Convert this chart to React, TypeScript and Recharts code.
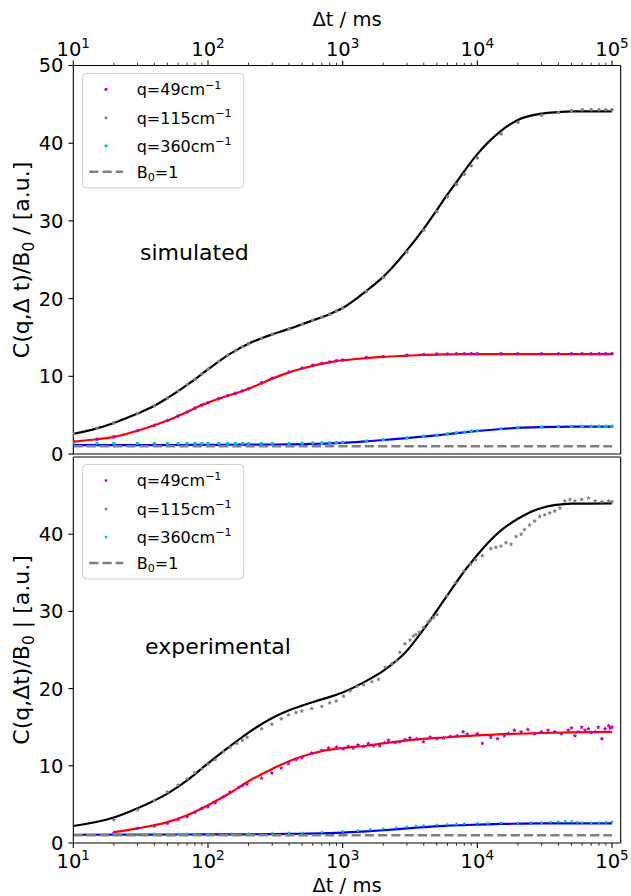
import { ComposedChart, Line, Scatter, XAxis, YAxis } from 'recharts';

const FONT = '"DejaVu Sans", Verdana, sans-serif';

// shared log x axis
const X_DOMAIN: [number, number] = [10, 116000];
const X_TICKS = [
  10, 20, 30, 40, 50, 60, 70, 80, 90,
  100, 200, 300, 400, 500, 600, 700, 800, 900,
  1000, 2000, 3000, 4000, 5000, 6000, 7000, 8000, 9000,
  10000, 20000, 30000, 40000, 50000, 60000, 70000, 80000, 90000,
  100000,
];
const Y_TICKS_SIM = [0, 10, 20, 30, 40, 50];
const Y_TICKS_EXP = [0, 10, 20, 30, 40];
const Q_VALUES = [49, 115, 360];

const B0_T = [10, 100000];
const B0_V = [1, 1];

// simulated panel
const SIM_T = [10, 15, 20, 30, 40, 50, 60, 70, 80, 90, 100, 120, 140, 160, 180, 200, 250, 300, 400, 500, 600, 700, 800, 900, 1000, 1500, 2000, 3000, 4000, 5000, 6000, 7000, 8000, 9000, 10000, 15000, 20000, 30000, 40000, 50000, 60000, 70000, 80000, 90000, 100000];
const SIM_Q49 = [1.6, 1.9, 2.2, 3.0, 3.7, 4.3, 4.9, 5.4, 5.9, 6.3, 6.6, 7.1, 7.5, 7.8, 8.1, 8.4, 9.15, 9.75, 10.55, 11.05, 11.4, 11.65, 11.85, 12.0, 12.1, 12.4, 12.55, 12.7, 12.8, 12.85, 12.87, 12.9, 12.9, 12.9, 12.9, 12.9, 12.9, 12.9, 12.9, 12.9, 12.9, 12.9, 12.9, 12.9, 12.9];
const SIM_Q115 = [2.6, 3.3, 4.0, 5.2, 6.2, 7.2, 8.1, 8.9, 9.6, 10.3, 10.9, 11.9, 12.7, 13.3, 13.8, 14.2, 14.9, 15.4, 16.1, 16.7, 17.2, 17.6, 18.0, 18.4, 18.8, 20.9, 22.7, 26.0, 28.8, 31.2, 33.1, 34.7, 36.0, 37.1, 38.1, 41.2, 42.7, 43.6, 43.95, 44.2, 44.3, 44.3, 44.3, 44.3, 44.3];
const SIM_Q360 = [1.35, 1.35, 1.35, 1.35, 1.35, 1.35, 1.35, 1.35, 1.35, 1.35, 1.35, 1.35, 1.35, 1.35, 1.35, 1.35, 1.35, 1.35, 1.36, 1.38, 1.4, 1.42, 1.45, 1.48, 1.52, 1.68, 1.85, 2.1, 2.3, 2.45, 2.6, 2.72, 2.83, 2.92, 3.0, 3.25, 3.38, 3.48, 3.52, 3.54, 3.55, 3.55, 3.55, 3.55, 3.55];
const SIM_FIT_Q49 = [1.6, 1.9, 2.2, 3.0, 3.7, 4.3, 4.9, 5.4, 5.9, 6.3, 6.6, 7.1, 7.5, 7.8, 8.1, 8.4, 9.1, 9.7, 10.5, 11.0, 11.35, 11.6, 11.8, 11.95, 12.05, 12.35, 12.5, 12.65, 12.75, 12.8, 12.82, 12.84, 12.85, 12.85, 12.85, 12.85, 12.85, 12.85, 12.85, 12.85, 12.85, 12.85, 12.85, 12.85, 12.85];
const SIM_FIT_Q115 = [2.6, 3.3, 4.0, 5.2, 6.2, 7.2, 8.1, 8.9, 9.6, 10.3, 10.9, 11.9, 12.7, 13.3, 13.8, 14.2, 14.9, 15.4, 16.1, 16.7, 17.2, 17.6, 18.0, 18.4, 18.8, 21.0, 22.8, 26.2, 29.0, 31.4, 33.4, 35.0, 36.4, 37.6, 38.6, 41.6, 43.0, 43.8, 44.0, 44.1, 44.1, 44.1, 44.1, 44.1, 44.1];
const SIM_FIT_Q360 = [1.15, 1.15, 1.15, 1.15, 1.15, 1.15, 1.16, 1.16, 1.17, 1.17, 1.18, 1.18, 1.19, 1.19, 1.2, 1.2, 1.21, 1.22, 1.24, 1.27, 1.3, 1.33, 1.36, 1.4, 1.44, 1.62, 1.8, 2.05, 2.25, 2.4, 2.55, 2.68, 2.79, 2.88, 2.96, 3.22, 3.36, 3.46, 3.5, 3.52, 3.53, 3.53, 3.53, 3.53, 3.53];

// experimental panel: [t, value]
const EXP_Q49: [number, number][] = [
  [20, 1.33], [30, 1.9], [40, 2.2], [50, 2.54], [60, 3.05], [70, 3.4], [80, 3.96], [90, 4.47], [100, 4.7], [113, 5.2],
  [130, 5.97], [146, 6.6], [169, 7.2], [180, 7.4], [195, 7.6], [250, 8.4], [298, 9.07], [350, 9.7], [396, 10.3], [450, 10.8],
  [498, 11.05], [590, 11.65], [700, 12.0], [786, 12.3], [900, 12.4], [1014, 12.2], [1100, 12.5], [1202, 12.3], [1300, 12.7], [1427, 12.5],
  [1550, 12.9], [1695, 12.6], [1884, 12.6], [2050, 13.0], [2190, 13.3], [2448, 13.0], [2661, 13.1], [2900, 13.4], [3162, 13.6], [3548, 13.5],
  [3981, 13.1], [4467, 13.7], [5012, 13.5], [5600, 13.6], [6300, 13.8], [7080, 13.9], [7850, 14.4], [8414, 14.1], [10000, 14.15], [10900, 12.9],
  [12590, 13.7], [14130, 13.5], [15850, 13.9], [17000, 14.2], [18840, 14.6], [21130, 14.4], [23710, 14.7], [26600, 14.15], [29850, 14.4], [33500, 14.6],
  [37580, 14.4], [42170, 14.15], [47320, 14.6], [50000, 14.9], [53090, 13.9], [56000, 14.4], [59570, 15.0], [63000, 14.6], [66830, 14.8], [70000, 14.3],
  [74990, 14.4], [79000, 15.0], [84140, 13.5], [88900, 14.8], [94400, 15.2], [97000, 14.9], [100000, 15.0],
];
const EXP_Q115: [number, number][] = [
  [20, 3.0], [30, 4.3], [40, 5.5], [50, 6.6], [60, 7.5], [70, 8.3], [80, 9.1], [90, 9.6], [100, 10.2], [113, 10.8],
  [130, 11.8], [146, 12.4], [164, 12.9], [180, 13.3], [195, 13.7], [250, 14.8], [298, 15.4], [350, 16.1], [396, 16.6], [450, 16.9],
  [498, 17.1], [590, 17.4], [700, 17.7], [800, 18.15], [895, 18.4], [1014, 19.0], [1137, 19.7], [1274, 20.3], [1427, 20.5], [1647, 20.9],
  [1845, 21.2], [2067, 22.75], [2316, 23.2], [2523, 23.6], [2661, 24.7], [2900, 25.8], [3162, 26.3], [3350, 26.8], [3500, 27.0], [3700, 27.3],
  [3981, 27.9], [4300, 28.6], [4500, 28.9], [4732, 29.2], [5012, 29.6], [5957, 32.0], [6879, 33.7], [7943, 35.2], [8900, 36.1], [9716, 36.7],
  [10900, 37.2], [12590, 38.15], [13720, 38.3], [14960, 38.45], [16320, 38.9], [17780, 38.7], [19390, 39.7], [21130, 40.0], [22390, 40.6], [24410, 41.2],
  [26600, 41.7], [29000, 42.3], [31620, 42.5], [34470, 42.75], [37580, 43.0], [40980, 43.4], [44670, 44.3], [48700, 44.5], [53090, 44.3], [59570, 44.5],
  [66830, 44.7], [74990, 44.3], [84140, 44.2], [94400, 44.3], [100000, 44.2],
];
const EXP_Q360: [number, number][] = [
  [20, 1.15], [30, 1.1], [40, 1.15], [50, 1.1], [60, 1.15], [70, 1.2], [80, 1.1], [100, 1.15], [150, 1.2], [200, 1.2],
  [300, 1.25], [400, 1.3], [500, 1.3], [700, 1.4], [1000, 1.5], [1300, 1.6], [1600, 1.75], [2000, 1.85], [2500, 2.0], [3000, 2.1],
  [3500, 2.2], [4000, 2.25], [5000, 2.35], [6000, 2.4], [7000, 2.45], [8000, 2.5], [10000, 2.55], [12000, 2.55], [15000, 2.6], [20000, 2.6],
  [25000, 2.65], [30000, 2.65], [35000, 2.7], [40000, 2.75], [45000, 2.8], [50000, 2.8], [55000, 2.7], [60000, 2.65], [70000, 2.6], [80000, 2.65],
  [90000, 2.7], [100000, 2.75],
];
const EXP_FIT_T = [10, 20, 30, 50, 70, 100, 150, 200, 300, 400, 500, 700, 1000, 1500, 2000, 3000, 4000, 6000, 8000, 10000, 12000, 15000, 20000, 30000, 50000, 100000];
const EXP_FIT_Q49 = [null, 1.4, 1.9, 2.7, 3.6, 4.9, 6.6, 8.0, 9.6, 10.6, 11.2, 11.9, 12.3, 12.6, 12.9, 13.3, 13.5, 13.7, 13.85, 13.95, 14.0, 14.1, 14.15, 14.25, 14.33, 14.4];
const EXP_FIT_Q115 = [2.2, 3.3, 4.5, 6.4, 8.1, 10.3, 12.7, 14.3, 16.2, 17.2, 17.8, 18.6, 19.5, 21.0, 22.3, 24.9, 27.7, 32.1, 35.2, 37.3, 38.9, 40.5, 42.0, 43.4, 43.95, 44.0];
const EXP_FIT_Q360 = [1.07, 1.08, 1.09, 1.1, 1.1, 1.11, 1.12, 1.13, 1.15, 1.17, 1.2, 1.25, 1.35, 1.5, 1.65, 1.9, 2.05, 2.24, 2.32, 2.38, 2.42, 2.47, 2.5, 2.53, 2.55, 2.55];

const C = { mag: '#bf00bf', gray: '#808080', cyan: '#00bfbf', red: '#ff0000', blue: '#0000ff', black: '#000000' };

const TICK_FS = 19.5;
const LABEL_FS = 19.5;

const zip = (ts: number[], vs: (number | null)[]) => ts.map((t, i) => ({ t, v: vs[i] }));
const pairs = (arr: [number, number][]) => arr.map(([t, v]) => ({ t, v }));

function starPoints(cx: number, cy: number, r: number) {
  const pts: string[] = [];
  for (let i = 0; i < 10; i++) {
    const a = -Math.PI / 2 + (i * Math.PI) / 5;
    const rr = i % 2 === 0 ? r : r * 0.5;
    pts.push(`${cx + rr * Math.cos(a)},${cy + rr * Math.sin(a)}`);
  }
  return pts.join(' ');
}

const dotShape = (color: string, r: number) => (p: any) => <circle cx={p.cx} cy={p.cy} r={r} fill={color} />;
const starShape = (color: string, r: number) => (p: any) => <polygon points={starPoints(p.cx, p.cy, r)} fill={color} />;

function LogTick(props: any) {
  const { x, y, payload, side } = props;
  const e = Math.log10(payload.value);
  const major = Math.abs(e - Math.round(e)) < 1e-9;
  const d = side === 'top' ? -1 : 1;
  return (
    <g>
      <line x1={x} x2={x} y1={y} y2={y + d * (major ? 4.9 : 2.8)} stroke="#000" strokeWidth={major ? 1.1 : 0.8} />
      {major && (
        <text x={x} y={side === 'top' ? y - 10 : y + 24.5} textAnchor="middle" fontSize={TICK_FS} fontFamily={FONT} fill="#000">
          10<tspan dy={-8} fontSize={TICK_FS * 0.7}>{Math.round(e)}</tspan>
        </text>
      )}
    </g>
  );
}

const AXIS = { stroke: '#000', strokeWidth: 1.1 };
const YTICK = { fontSize: TICK_FS, fill: '#000', fontFamily: FONT };

function LegendBox({ x, y, star }: { x: number; y: number; star: boolean }) {
  const rows = [16, 44.5, 72.5, 98.5];
  const colors = [C.mag, C.gray, C.cyan];
  const mx = x + 23.3;
  return (
    <g fontFamily={FONT} fill="#000">
      <rect x={x} y={y} width={161} height={114.5} rx={4} fill="#fff" fillOpacity={0.8} stroke="#cccccc" strokeWidth={1} />
      {Q_VALUES.map((q, i) => (
        <g key={q}>
          {star ? (
            <polygon points={starPoints(mx, y + rows[i], 2.1)} fill={colors[i]} />
          ) : (
            <circle cx={mx} cy={y + rows[i]} r={1.6} fill={colors[i]} />
          )}
          <text x={x + 54} y={y + rows[i] + 5.8} fontSize={16}>
            {`q=${q}cm`}
            <tspan dy={-6.5} fontSize={11.2}>−1</tspan>
          </text>
        </g>
      ))}
      <line x1={x + 6.5} x2={x + 40.5} y1={y + rows[3]} y2={y + rows[3]} stroke={C.gray} strokeWidth={2.5} strokeDasharray="9.25 4" />
      <text x={x + 54} y={y + rows[3] + 5.8} fontSize={16}>
        B<tspan dy={3.5} fontSize={11.2}>0</tspan>
        <tspan dy={-3.5}>=1</tspan>
      </text>
    </g>
  );
}

function Axes({ side, yTicks, h }: { side: 'top' | 'bottom'; yTicks: number[]; h: number }) {
  return [
    <XAxis key="x" xAxisId="x" dataKey="t" type="number" scale="log" domain={X_DOMAIN} allowDataOverflow orientation={side} height={h}
      ticks={X_TICKS} interval={0} tickSize={0} tickMargin={0} tickLine={false} axisLine={AXIS} tick={<LogTick side={side} />} />,
    <XAxis key="xe" xAxisId="edge" type="number" scale="log" domain={X_DOMAIN} allowDataOverflow orientation={side === 'top' ? 'bottom' : 'top'}
      height={1} tick={false} tickLine={false} axisLine={AXIS} />,
    <YAxis key="y" yAxisId="y" dataKey="v" type="number" domain={[0, 50]} allowDataOverflow ticks={yTicks} interval={0} width={73.3}
      tickSize={4.9} tickMargin={4.9} tick={YTICK} tickLine={AXIS} axisLine={AXIS} />,
    <YAxis key="ye" yAxisId="edge" orientation="right" type="number" domain={[0, 50]} width={10.3} tick={false} tickLine={false} axisLine={AXIS} />,
  ];
}

export default function App() {
  const ids = { xAxisId: 'x', yAxisId: 'y', isAnimationActive: false };
  return (
    <div style={{ position: 'absolute', left: 0, top: 0, width: 631, height: 896, background: '#fff', fontFamily: FONT }}>
      <div style={{ position: 'absolute', left: 0, top: 0 }}>
        <ComposedChart width={631} height={471} margin={{ top: 0, right: 0, bottom: 16, left: 0 }}>
          {Axes({ side: 'top', yTicks: Y_TICKS_SIM, h: 65.5 })}
          <Scatter {...ids} data={zip(SIM_T, SIM_Q49)} shape={dotShape(C.mag, 1.8)} />
          <Scatter {...ids} data={zip(SIM_T, SIM_Q115)} shape={dotShape(C.gray, 1.8)} />
          <Scatter {...ids} data={zip(SIM_T, SIM_Q360)} shape={dotShape(C.cyan, 1.8)} />
          <Line {...ids} data={zip(SIM_T, SIM_FIT_Q115)} dataKey="v" type="monotone" stroke={C.black} strokeWidth={2.2} dot={false} />
          <Line {...ids} data={zip(SIM_T, SIM_FIT_Q49)} dataKey="v" type="monotone" stroke={C.red} strokeWidth={2.2} dot={false} />
          <Line {...ids} data={zip(SIM_T, SIM_FIT_Q360)} dataKey="v" type="monotone" stroke={C.blue} strokeWidth={2.2} dot={false} />
          <Line {...ids} data={zip(B0_T, B0_V)} dataKey="v" type="linear" stroke={C.gray} strokeWidth={2.5} strokeDasharray="9.25 4" dot={false} />
        </ComposedChart>
      </div>
      <div style={{ position: 'absolute', left: 0, top: 456 }}>
        <ComposedChart width={631} height={440} margin={{ top: 0, right: 0, bottom: 0, left: 0 }}>
          {Axes({ side: 'bottom', yTicks: Y_TICKS_EXP, h: 53 })}
          <Scatter {...ids} data={pairs(EXP_Q49)} shape={starShape(C.mag, 2.4)} />
          <Scatter {...ids} data={pairs(EXP_Q115)} shape={starShape(C.gray, 2.4)} />
          <Scatter {...ids} data={pairs(EXP_Q360)} shape={starShape(C.cyan, 2.0)} />
          <Line {...ids} data={zip(EXP_FIT_T, EXP_FIT_Q115)} dataKey="v" type="monotone" stroke={C.black} strokeWidth={2.2} dot={false} />
          <Line {...ids} data={zip(EXP_FIT_T, EXP_FIT_Q49)} dataKey="v" type="monotone" stroke={C.red} strokeWidth={2.2} dot={false} />
          <Line {...ids} data={zip(EXP_FIT_T, EXP_FIT_Q360)} dataKey="v" type="monotone" stroke={C.blue} strokeWidth={2.2} dot={false} />
          <Line {...ids} data={zip(B0_T, B0_V)} dataKey="v" type="linear" stroke={C.gray} strokeWidth={2.5} strokeDasharray="9.25 4" dot={false} />
        </ComposedChart>
      </div>
      <svg width={631} height={896} style={{ position: 'absolute', left: 0, top: 0, pointerEvents: 'none' }}>
        <g fontFamily={FONT} fill="#000">
          <text x={347} y={26} textAnchor="middle" fontSize={LABEL_FS}>Δt / ms</text>
          <text x={347} y={891.5} textAnchor="middle" fontSize={LABEL_FS}>Δt / ms</text>
          <text transform="translate(29,260) rotate(-90)" textAnchor="middle" fontSize={22}>
            C(q,Δ t)/B<tspan dy={4.5} fontSize={15.4}>0</tspan>
            <tspan dy={-4.5}>{' / [a.u.]'}</tspan>
          </text>
          <text transform="translate(29,650) rotate(-90)" textAnchor="middle" fontSize={22}>
            C(q,Δt)/B<tspan dy={4.5} fontSize={15.4}>0</tspan>
            <tspan dy={-4.5}>{' | [a.u.]'}</tspan>
          </text>
          <text x={140} y={260} fontSize={22}>simulated</text>
          <text x={145} y={654} fontSize={22}>experimental</text>
        </g>
        <LegendBox x={82.7} y={73.3} star={false} />
        <LegendBox x={82.7} y={464.5} star={true} />
      </svg>
    </div>
  );
}
